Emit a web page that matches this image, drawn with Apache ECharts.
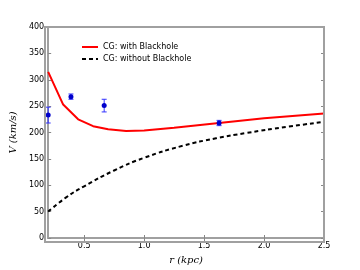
<!DOCTYPE html>
<html><head><meta charset="utf-8">
<script src="https://cdn.jsdelivr.net/npm/echarts@6/dist/echarts.min.js"></script>
<style>html,body{margin:0;padding:0;background:#fff}#c{width:360px;height:270px}</style>
</head><body><div id="c"></div>
<script>
const withBH_r = [0.2, 0.325, 0.45, 0.575, 0.7, 0.85, 1.0, 1.25, 1.625, 2.0, 2.5];
const withBH_v = [315, 253, 225, 212, 206, 203, 204, 209, 218, 227, 236];
const noBH_r = [0.2, 0.35, 0.5, 0.75, 1.0, 1.325, 1.6, 1.85, 2.2, 2.5];
const noBH_v = [50, 77, 98, 128, 152, 175, 189, 199, 211, 220];
const obs_r = [0.2, 0.39, 0.667, 1.625];
const obs_v = [233, 268, 251, 218];
const obs_err = [15, 5, 12, 5];
const xTicks = [0.5, 1.0, 1.5, 2.0, 2.5];
const yTicks = [0, 50, 100, 150, 200, 250, 300, 350, 400];

const chart = echarts.init(document.getElementById('c'));
const axisCol = '#a0a0a0';
const font = 'DejaVu Sans';
const baseX = {
  type: 'value', min: 0.2, max: 2.5,
  axisLine: {show: true, lineStyle: {color: axisCol, width: 2}},
  axisTick: {show: true, inside: true, length: 3, customValues: xTicks, lineStyle: {color: '#888'}},
  splitLine: {show: false}
};
const baseY = {
  type: 'value', min: 0, max: 400, interval: 50,
  axisLine: {show: true, lineStyle: {color: axisCol, width: 2}},
  axisTick: {show: true, inside: true, length: 3, lineStyle: {color: '#888'}},
  splitLine: {show: false}
};
chart.setOption({
  animation: false,
  grid: {left: 45, right: 36, top: 27, bottom: 28},
  legend: {
    left: 76, top: 38, orient: 'vertical', itemGap: 4, itemWidth: 16, itemHeight: 8,
    itemStyle: {opacity: 0},
    textStyle: {fontFamily: font, fontSize: 8, color: '#000'},
    data: ['CG: with Blackhole', 'CG: without Blackhole']
  },
  xAxis: [
    Object.assign({}, baseX, {
      position: 'bottom',
      name: 'r (kpc)', nameLocation: 'middle', nameGap: 17,
      nameTextStyle: {fontFamily: 'DejaVu Serif', fontStyle: 'italic', fontSize: 10, color: '#000'},
      axisLabel: {customValues: xTicks, formatter: v => v.toFixed(1), fontFamily: font, fontSize: 8, color: '#000', margin: 4}
    }),
    Object.assign({}, baseX, {position: 'top', axisLabel: {show: false}})
  ],
  yAxis: [
    Object.assign({}, baseY, {
      position: 'left',
      name: 'V (km/s)', nameLocation: 'middle', nameGap: 26, nameRotate: 90,
      nameTextStyle: {fontFamily: 'DejaVu Serif', fontStyle: 'italic', fontSize: 10, color: '#000'},
      axisLabel: {fontFamily: font, fontSize: 8, color: '#000', margin: 4}
    }),
    Object.assign({}, baseY, {position: 'right', axisLabel: {show: false}})
  ],
  series: [
    {name: 'CG: with Blackhole', type: 'line', symbol: 'none', z: 3,
     data: withBH_r.map((r, i) => [r, withBH_v[i]]),
     lineStyle: {color: '#ff0000', width: 2}, itemStyle: {color: '#ff0000'}},
    {name: 'CG: without Blackhole', type: 'line', symbol: 'none', smooth: true, z: 3,
     data: noBH_r.map((r, i) => [r, noBH_v[i]]),
     lineStyle: {color: '#000', width: 2, type: [4, 3]}, itemStyle: {color: '#000'}},
    {type: 'custom', z: 5,
     data: obs_r.map((r, i) => [r, obs_v[i], obs_err[i]]),
     renderItem: function (params, api) {
       const x = api.value(0), v = api.value(1), e = api.value(2);
       const p = api.coord([x, v]), lo = api.coord([x, v - e]), hi = api.coord([x, v + e]);
       const st = {stroke: '#3333ff', lineWidth: 1};
       return {type: 'group', children: [
         {type: 'line', shape: {x1: p[0], y1: lo[1], x2: p[0], y2: hi[1]}, style: st},
         {type: 'line', shape: {x1: p[0] - 2.5, y1: lo[1], x2: p[0] + 2.5, y2: lo[1]}, style: st},
         {type: 'line', shape: {x1: p[0] - 2.5, y1: hi[1], x2: p[0] + 2.5, y2: hi[1]}, style: st},
         {type: 'circle', shape: {cx: p[0], cy: p[1], r: 2.5}, style: {fill: '#0000cc'}}
       ]};
     }}
  ],
  graphic: [
    {type: 'rect', shape: {x: 45, y: 27, width: 279, height: 215}, style: {fill: 'none', stroke: axisCol, lineWidth: 2}, z: 10, silent: true}
  ]
});
</script></body></html>
